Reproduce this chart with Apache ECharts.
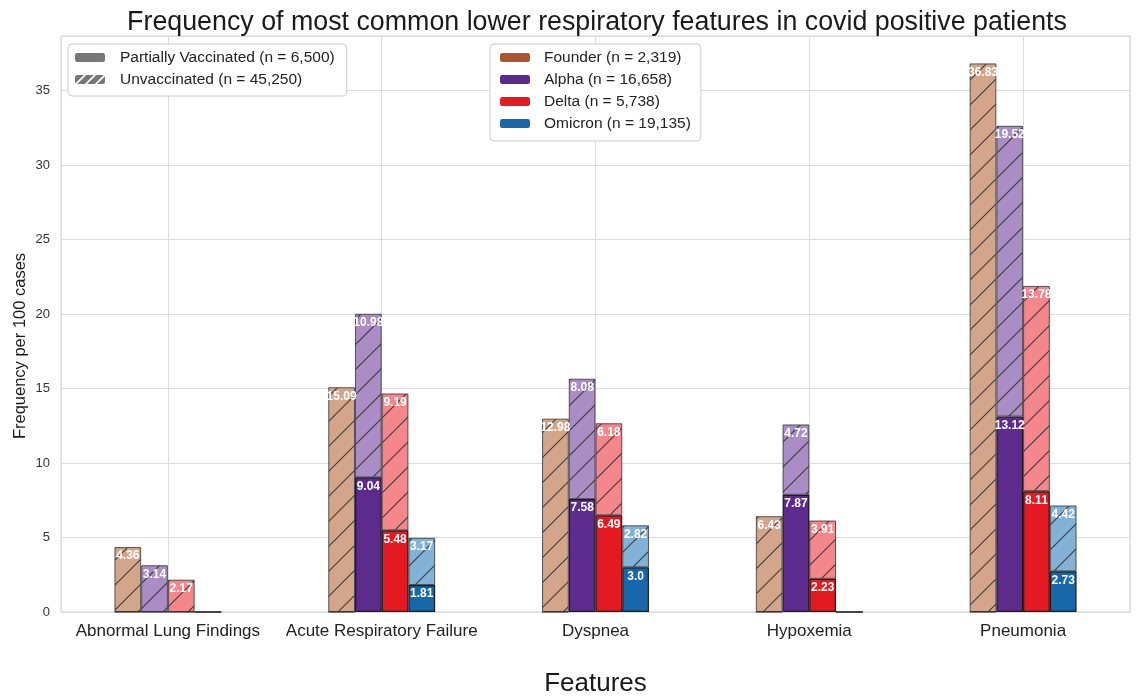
<!DOCTYPE html>
<html>
<head>
<meta charset="utf-8">
<script src="https://cdn.jsdelivr.net/npm/echarts@6/dist/echarts.min.js"></script>
<style>
html,body{margin:0;padding:0;background:#fff;}
#chart{width:1141px;height:697px;}
</style>
</head>
<body>
<div id="chart"></div>
<script>
// ---- data ----
const features = ['Abnormal Lung Findings', 'Acute Respiratory Failure', 'Dyspnea', 'Hypoxemia', 'Pneumonia'];
const variants = ['Founder', 'Alpha', 'Delta', 'Omicron'];
const variantCounts = ['2,319', '16,658', '5,738', '19,135'];
const vaccineGroups = ['Partially Vaccinated (n = 6,500)', 'Unvaccinated (n = 45,250)'];
// Partially vaccinated (solid, bottom segment)
const partialFounder = [0, 0, 0, 0, 0];
const partialAlpha = [0, 9.04, 7.58, 7.87, 13.12];
const partialDelta = [0, 5.48, 6.49, 2.23, 8.11];
const partialOmicron = [0, 1.81, 3.0, 0, 2.73];
// Unvaccinated (hatched, top segment)
const unvaxFounder = [4.36, 15.09, 12.98, 6.43, 36.83];
const unvaxAlpha = [3.14, 10.98, 8.08, 4.72, 19.52];
const unvaxDelta = [2.17, 9.19, 6.18, 3.91, 13.78];
const unvaxOmicron = [0, 3.17, 2.82, 0, 4.42];
const yTicks = [0, 5, 10, 15, 20, 25, 30, 35];

const partial = [partialFounder, partialAlpha, partialDelta, partialOmicron];
const unvax = [unvaxFounder, unvaxAlpha, unvaxDelta, unvaxOmicron];

// ---- styles ----
const solidColors = ['#AC532F', '#5D2B8E', '#E41A22', '#1767AA'];
const lightColors = ['#D3A68C', '#A98DC4', '#F3878C', '#83B2D7'];
const FONT = 'Liberation Sans, Arial, sans-serif';

function hatch(fill, line, size, lw) {
  const c = document.createElement('canvas');
  c.width = size; c.height = size;
  const g = c.getContext('2d');
  g.fillStyle = fill;
  g.fillRect(0, 0, size, size);
  g.strokeStyle = line;
  g.lineWidth = lw;
  g.beginPath();
  g.moveTo(0, size); g.lineTo(size, 0);
  g.moveTo(-size / 2, size / 2); g.lineTo(size / 2, -size / 2);
  g.moveTo(size / 2, size * 1.5); g.lineTo(size * 1.5, size / 2);
  g.stroke();
  return { image: c, repeat: 'repeat' };
}

function fmt(v) {
  if (!v) return '';
  return Number.isInteger(v) ? v.toFixed(1) : String(v);
}

const labelCfg = {
  show: true,
  position: 'insideTop',
  distance: 3,
  color: '#fff',
  fontWeight: 'bold',
  fontSize: 12,
  fontFamily: FONT,
  formatter: p => fmt(p.value)
};

const series = [];
variants.forEach((v, i) => {
  series.push({
    name: v + ' (n = ' + variantCounts[i] + ')',
    type: 'bar',
    stack: v,
    barWidth: '12.5%',
    barGap: '0%',
    data: partial[i],
    itemStyle: { color: solidColors[i], borderColor: '#1a1a1a', borderWidth: 1.2 },
    label: labelCfg,
    z: 3
  });
  series.push({
    name: v + ' unvaccinated',
    type: 'bar',
    stack: v,
    barWidth: '12.5%',
    barGap: '0%',
    data: unvax[i],
    itemStyle: { color: hatch(lightColors[i], 'rgba(40,40,40,0.85)', 25, 1.1), borderColor: 'rgba(50,50,50,0.8)', borderWidth: 1 },
    label: labelCfg,
    z: 2
  });
});
// legend-only entries for vaccination status
series.push({
  name: vaccineGroups[0], type: 'bar', stack: 'Founder', barWidth: '12.5%', barGap: '0%', data: [],
  itemStyle: { color: '#777777' }
});
series.push({
  name: vaccineGroups[1], type: 'bar', stack: 'Founder', barWidth: '12.5%', barGap: '0%', data: [],
  itemStyle: { color: hatch('#777777', '#ffffff', 10, 1.6) }
});

const legendCommon = {
  orient: 'vertical', top: 44,
  itemWidth: 30, itemHeight: 9, itemGap: 5,
  backgroundColor: '#fff', borderColor: '#cccccc', borderWidth: 1, borderRadius: 4,
  selectedMode: false,
  itemStyle: { borderWidth: 0 }
};

const chart = echarts.init(document.getElementById('chart'), null, { renderer: 'canvas' });
chart.setOption({
  animation: false,
  backgroundColor: '#fff',
  title: {
    text: 'Frequency of most common lower respiratory features in covid positive patients',
    left: 592, textAlign: 'center', top: 4,
    textStyle: { fontFamily: FONT, fontSize: 26.8, fontWeight: 'normal', color: '#1a1a1a' }
  },
  grid: {
    left: 61, right: 11, top: 36, bottom: 85,
    outerBoundsMode: 'none', containLabel: false,
    show: true, borderColor: '#d0d0d0', borderWidth: 1
  },
  legend: [
    Object.assign({}, legendCommon, {
      data: vaccineGroups,
      left: 68,
      padding: [5, 12, 8, 7],
      textStyle: { fontFamily: FONT, fontSize: 15.5, color: '#222', lineHeight: 17, padding: [0, 0, 0, 10] }
    }),
    Object.assign({}, legendCommon, {
      data: variants.map((v, i) => v + ' (n = ' + variantCounts[i] + ')'),
      left: 490,
      padding: [5, 10, 9, 10],
      textStyle: { fontFamily: FONT, fontSize: 15.5, color: '#222', lineHeight: 17, padding: [0, 0, 0, 9] }
    })
  ],
  xAxis: [
    {
      type: 'category',
      data: features,
      name: 'Features',
      nameLocation: 'middle',
      nameGap: 59,
      nameMoveOverlap: false,
      nameTextStyle: { fontFamily: FONT, fontSize: 26, color: '#1a1a1a' },
      axisLine: { show: false },
      axisTick: { show: false },
      axisLabel: { fontFamily: FONT, fontSize: 17, color: '#222', margin: 11, interval: 0 },
      splitLine: { show: false }
    },
    {
      type: 'value',
      min: -0.5, max: 4.5,
      position: 'bottom',
      axisLine: { show: false }, axisTick: { show: false }, axisLabel: { show: false },
      splitLine: { show: true, lineStyle: { color: '#dcdcdc', width: 1 } }
    }
  ],
  yAxis: {
    type: 'value',
    min: 0, max: 38.67, interval: 5,
    name: 'Frequency per 100 cases',
    nameLocation: 'middle',
    nameGap: 32,
    nameMoveOverlap: false,
    nameTextStyle: { fontFamily: FONT, fontSize: 16.5, color: '#1a1a1a', padding: [0, 44, 0, 0] },
    axisLine: { show: false },
    axisTick: { show: false },
    axisLabel: {
      fontFamily: FONT, fontSize: 13, color: '#333', margin: 11,
      formatter: v => (yTicks.indexOf(v) >= 0 ? String(v) : '')
    },
    splitLine: { lineStyle: { color: '#dcdcdc', width: 1 } }
  },
  series: series
});
</script>
</body>
</html>
